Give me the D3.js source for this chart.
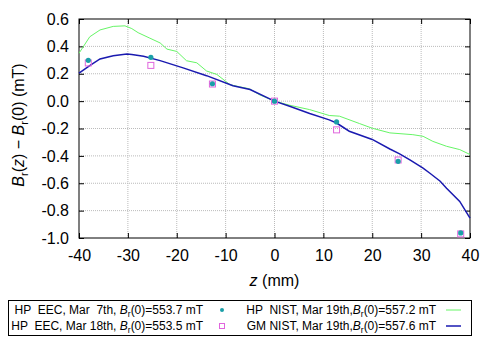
<!DOCTYPE html>
<html>
<head>
<meta charset="utf-8">
<script src="https://cdn.jsdelivr.net/npm/d3@7"></script>
<style>
  body { margin: 0; background: #fff; }
  svg { font-family: "Liberation Sans", Arial, sans-serif; }
</style>
</head>
<body>
<svg></svg>
<script>
const size = {w: 485, h: 339};
const margin = {t: 19, r: 15, b: 101, l: 79};

// HP EEC, Mar 7th (filled circles)
const eec7Z = [-38.1, -25.3, -12.7, 0, 12.7, 25.3, 38.1];
const eec7B = [0.298, 0.32, 0.127, 0.0, -0.152, -0.44, -0.963];

// HP EEC, Mar 18th (open squares)
const eec18Z = [-38.1, -25.3, -12.7, 0, 12.7, 25.3, 38.1];
const eec18B = [0.279, 0.261, 0.125, 0.0, -0.21, -0.43, -0.97];

// HP NIST, Mar 19th (green line)
const nistHpZ = [-40, -37.8, -35.7, -33, -30.6, -29.2, -27.9, -25.5, -23.4, -22, -20, -18, -15.9, -13.9, -11.8, -9.1, -7.2, -5.1, -3.1, 0, 3.1, 7.2, 11.2, 13.3, 17.4, 20, 23.6, 28.3, 30.4, 32.4, 35.2, 37.9, 40];
const nistHpB = [0.35, 0.47, 0.52, 0.546, 0.55, 0.53, 0.5, 0.46, 0.425, 0.38, 0.363, 0.295, 0.28, 0.22, 0.195, 0.12, 0.105, 0.09, 0.047, 0.0, -0.03, -0.062, -0.105, -0.11, -0.164, -0.198, -0.232, -0.245, -0.257, -0.294, -0.33, -0.354, -0.39];

// GM NIST, Mar 19th (blue line)
const nistGmZ = [-40, -37.8, -35.7, -33, -30.2, -29.2, -26.8, -23.4, -18.7, -13.9, -8.5, -5, 0, 3.1, 7.2, 11.2, 12.7, 15.3, 20, 23.6, 25.6, 27.7, 30.4, 31.8, 33.9, 35.2, 37.9, 40];
const nistGmB = [0.205, 0.26, 0.308, 0.332, 0.344, 0.34, 0.328, 0.296, 0.243, 0.186, 0.113, 0.085, 0.0, -0.037, -0.09, -0.137, -0.16, -0.22, -0.28, -0.35, -0.385, -0.43, -0.49, -0.527, -0.585, -0.636, -0.733, -0.855];

const xTicks = [-40, -30, -20, -10, 0, 10, 20, 30, 40];
const yTicks = [0.6, 0.4, 0.2, 0.0, -0.2, -0.4, -0.6, -0.8, -1.0];

const svg = d3.select('svg').attr('width', size.w).attr('height', size.h);
const pw = size.w - margin.l - margin.r;
const ph = size.h - margin.t - margin.b;

const x = d3.scaleLinear().domain([-40, 40]).range([margin.l, margin.l + pw]);
const y = d3.scaleLinear().domain([-1.0, 0.6]).range([margin.t + ph, margin.t]);

// grid
const gridG = svg.append('g').classed('grid', true);
gridG.selectAll('line.gx')
    .data(xTicks.slice(1, -1))
    .join('line')
    .attr('x1', d => x(d)).attr('x2', d => x(d))
    .attr('y1', margin.t).attr('y2', margin.t + ph)
    .attr('stroke', '#bbb').attr('stroke-dasharray', '1,1');
gridG.selectAll('line.gy')
    .data(yTicks.slice(1, -1))
    .join('line')
    .attr('x1', margin.l).attr('x2', margin.l + pw)
    .attr('y1', d => y(d)).attr('y2', d => y(d))
    .attr('stroke', '#bbb').attr('stroke-dasharray', '1,1');

// axes with inward ticks
const fmtY = d => d3.format('.1f')(d).replace('−', '-');
const axisFont = 16;
const bottomAxis = svg.append('g')
    .attr('transform', `translate(0,${margin.t + ph})`)
    .call(d3.axisBottom(x).tickValues(xTicks).tickSize(-5).tickPadding(10).tickFormat(d => String(d)));
const topAxis = svg.append('g')
    .attr('transform', `translate(0,${margin.t})`)
    .call(d3.axisTop(x).tickValues(xTicks).tickSize(-5).tickFormat(''));
const leftAxis = svg.append('g')
    .attr('transform', `translate(${margin.l},0)`)
    .call(d3.axisLeft(y).tickValues(yTicks).tickSize(-5).tickPadding(10).tickFormat(fmtY));
const rightAxis = svg.append('g')
    .attr('transform', `translate(${margin.l + pw},0)`)
    .call(d3.axisRight(y).tickValues(yTicks).tickSize(-5).tickFormat(''));

[bottomAxis, topAxis, leftAxis, rightAxis].forEach(g => {
    g.select('.domain').remove();
    g.selectAll('.tick line').attr('stroke', '#000');
    g.selectAll('text').attr('font-size', axisFont).attr('font-family', '"Liberation Sans", Arial, sans-serif').attr('fill', '#000');
});
bottomAxis.selectAll('text').attr('dy', '0.8em');

// frame
svg.append('rect')
    .attr('x', margin.l).attr('y', margin.t)
    .attr('width', pw).attr('height', ph)
    .attr('fill', 'none').attr('stroke', '#000').attr('stroke-width', 1);

// lines
const lineGen = d3.line().x(d => x(d[0])).y(d => y(d[1]));
svg.append('path')
    .datum(nistHpZ.map((z, i) => [z, nistHpB[i]]))
    .attr('d', lineGen)
    .attr('fill', 'none').attr('stroke', '#66f566').attr('stroke-width', 1);
svg.append('path')
    .datum(nistGmZ.map((z, i) => [z, nistGmB[i]]))
    .attr('d', lineGen)
    .attr('fill', 'none').attr('stroke', '#1a1ab0').attr('stroke-width', 1.5);

// points
svg.append('g').selectAll('rect')
    .data(eec18Z.map((z, i) => [z, eec18B[i]]))
    .join('rect')
    .attr('x', d => x(d[0]) - 3).attr('y', d => y(d[1]) - 3)
    .attr('width', 6).attr('height', 6)
    .attr('fill', 'none').attr('stroke', '#e066dd').attr('stroke-width', 1);
svg.append('g').selectAll('circle')
    .data(eec7Z.map((z, i) => [z, eec7B[i]]))
    .join('circle')
    .attr('cx', d => x(d[0])).attr('cy', d => y(d[1]))
    .attr('r', 2.6)
    .attr('fill', '#1a9fa8');

// axis titles
const xl = svg.append('text')
    .attr('x', x(0)).attr('y', 286)
    .attr('text-anchor', 'middle').attr('font-size', 16);
xl.append('tspan').attr('font-style', 'italic').text('z');
xl.append('tspan').text(' (mm)');

const yl = svg.append('text')
    .attr('transform', `translate(24,125) rotate(-90)`)
    .attr('text-anchor', 'middle').attr('font-size', 16);
yl.append('tspan').attr('font-style', 'italic').text('B');
yl.append('tspan').attr('font-size', 11).attr('dy', 4).text('r');
yl.append('tspan').attr('dy', -4).text('(');
yl.append('tspan').attr('font-style', 'italic').text('z');
yl.append('tspan').text(') − ');
yl.append('tspan').attr('font-style', 'italic').text('B');
yl.append('tspan').attr('font-size', 11).attr('dy', 4).text('r');
yl.append('tspan').attr('dy', -4).text('(0) (mT)');

// legend
const legG = svg.append('g').classed('legend', true);
legG.append('rect')
    .attr('x', 8.5).attr('y', 300.5).attr('width', 463).attr('height', 35)
    .attr('fill', 'none').attr('stroke', '#000');

const legendItems = [
    {label: ['HP  EEC, Mar  7th, ', '553.7 mT'], col: 0, row: 0, kind: 'circle'},
    {label: ['HP  EEC, Mar 18th, ', '553.5 mT'], col: 0, row: 1, kind: 'square'},
    {label: ['HP  NIST, Mar 19th,', '557.2 mT'], col: 1, row: 0, kind: 'green'},
    {label: ['GM NIST, Mar 19th,', '557.6 mT'], col: 1, row: 1, kind: 'blue'}
];
const colTextEnd = [203, 436];
const colSym = [222, 453];
const rowY = [310, 326];

legendItems.forEach(it => {
    const t = legG.append('text')
        .attr('x', colTextEnd[it.col]).attr('y', rowY[it.row])
        .attr('dy', '0.35em')
        .attr('text-anchor', 'end').attr('font-size', 12)
        .style('white-space', 'pre');
    t.append('tspan').text(it.label[0]);
    t.append('tspan').attr('font-style', 'italic').text('B');
    t.append('tspan').attr('font-size', 8.5).attr('dy', 3).text('r');
    t.append('tspan').attr('dy', -3).text('(0)=' + it.label[1]);

    const sx = colSym[it.col], sy = rowY[it.row];
    if (it.kind === 'circle') {
        legG.append('circle').attr('cx', sx).attr('cy', sy).attr('r', 2).attr('fill', '#1a9fa8');
    } else if (it.kind === 'square') {
        legG.append('rect').attr('x', sx - 2.5).attr('y', sy - 2.5).attr('width', 5).attr('height', 5)
            .attr('fill', 'none').attr('stroke', '#e066dd');
    } else {
        legG.append('line').attr('x1', sx - 7).attr('x2', sx + 8).attr('y1', sy).attr('y2', sy)
            .attr('stroke', it.kind === 'green' ? '#66f566' : '#1a1ab0')
            .attr('stroke-width', it.kind === 'green' ? 1 : 1.5);
    }
});
</script>
</body>
</html>
